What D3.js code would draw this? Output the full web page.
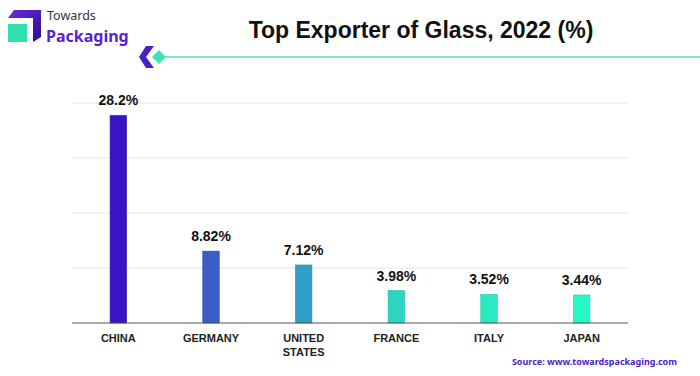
<!DOCTYPE html>
<html><head><meta charset="utf-8">
<script src="https://cdn.jsdelivr.net/npm/d3@7"></script>
<style>html,body{margin:0;padding:0;background:#fff;}svg{display:block;}</style>
</head><body>
<script>
const categories = ["CHINA", "GERMANY", "UNITED STATES", "FRANCE", "ITALY", "JAPAN"];
const values = [28.2, 8.82, 7.12, 3.98, 3.52, 3.44];
const valueLabels = ["28.2%", "8.82%", "7.12%", "3.98%", "3.52%", "3.44%"];
const barColors = ["#3a14c4", "#3a5ec8", "#31a0c8", "#2dd6c0", "#2be9c1", "#28f6c4"];
const gridFractions = [0, 0.25, 0.5, 0.75, 1];

const W = 700, H = 376;
const svg = d3.select("body").append("svg").attr("width", W).attr("height", H);
const font = "'Liberation Sans', Arial, sans-serif";

const x = d3.scaleBand().domain(categories).range([72, 628]);
// piecewise scale: the original chart compresses the top region
const y = d3.scaleLinear().domain([0, 10, 30]).range([323, 241.5, 103]);
const g = d3.scaleLinear().domain([0, 1]).range([323, 103]);

// gridlines
svg.append("g").selectAll("line").data(gridFractions.slice(1)).join("line")
  .attr("x1", 72).attr("x2", 628)
  .attr("y1", d => g(d)).attr("y2", d => g(d))
  .attr("stroke", "#e6e6ec").attr("stroke-width", 1);

// bars
const bw = 16.5;
svg.append("g").selectAll("rect").data(values).join("rect")
  .attr("x", (d, i) => x(categories[i]) + x.bandwidth() / 2 - bw / 2)
  .attr("y", d => y(d))
  .attr("width", bw)
  .attr("height", d => y(0) - y(d))
  .attr("fill", (d, i) => barColors[i])
  .attr("stroke", (d, i) => d3.color(barColors[i]).darker(0.4))
  .attr("stroke-width", 0.6);

// baseline
svg.append("line").attr("x1", 72).attr("x2", 628).attr("y1", y(0)).attr("y2", y(0))
  .attr("stroke", "#555").attr("stroke-width", 1.2);

// value labels
svg.append("g").selectAll("text").data(values).join("text")
  .attr("x", (d, i) => x(categories[i]) + x.bandwidth() / 2)
  .attr("y", d => y(d) - 10)
  .attr("text-anchor", "middle")
  .attr("font-family", font).attr("font-weight", "bold").attr("font-size", 14)
  .attr("fill", "#111")
  .text((d, i) => valueLabels[i]);

// category labels
const cat = svg.append("g").selectAll("text").data(categories).join("text")
  .attr("x", d => x(d) + x.bandwidth() / 2)
  .attr("y", 342)
  .attr("text-anchor", "middle")
  .attr("font-family", font).attr("font-weight", "bold").attr("font-size", 11)
  .attr("fill", "#222");
cat.each(function(d) {
  const words = d === "UNITED STATES" ? ["UNITED", "STATES"] : [d];
  const t = d3.select(this);
  words.forEach((w, i) => {
    t.append("tspan").attr("x", x(d) + x.bandwidth() / 2).attr("dy", i === 0 ? 0 : 14).text(w);
  });
});

// title
svg.append("text").attr("x", 421).attr("y", 38).attr("text-anchor", "middle")
  .attr("font-family", font).attr("font-weight", "bold").attr("font-size", 23)
  .attr("fill", "#111").text("Top Exporter of Glass, 2022 (%)");

// teal line + arrow decoration
svg.append("line").attr("x1", 162).attr("x2", 700).attr("y1", 57).attr("y2", 57)
  .attr("stroke", "#4fe0b4").attr("stroke-width", 1.5);
svg.append("path").attr("d", "M146,46 L154,46 L146,57 L154,68 L146,68 L139,57 Z").attr("fill", "#4a1fc8");
svg.append("path").attr("d", "M159,50 L166,57 L159,64 L152,57 Z").attr("fill", "#3fe3b8");

// logo
const defs = svg.append("defs");
const lg = defs.append("linearGradient").attr("id", "lg").attr("x1", 0).attr("y1", 0).attr("x2", 1).attr("y2", 1);
lg.append("stop").attr("offset", "0%").attr("stop-color", "#6a2be0");
lg.append("stop").attr("offset", "100%").attr("stop-color", "#2a0f8c");
svg.append("path").attr("d", "M14,10 L41,10 L41,37 L33,42 L33,18 L8,18 Z").attr("fill", "url(#lg)");
svg.append("rect").attr("x", 8).attr("y", 24).attr("width", 19).attr("height", 18).attr("fill", "#2ee0b0");
svg.append("text").attr("x", 47).attr("y", 20).attr("font-family", "'Noto Sans', Lato, sans-serif")
  .attr("font-size", 12.5).attr("fill", "#333").text("Towards");
svg.append("text").attr("x", 46).attr("y", 42).attr("font-family", "'Noto Sans', Lato, sans-serif")
  .attr("font-weight", "bold").attr("font-size", 16).attr("fill", "#5a1fd6").text("Packaging");

// source
svg.append("text").attr("x", 677).attr("y", 365).attr("text-anchor", "end")
  .attr("font-family", "'Noto Sans', Lato, sans-serif").attr("font-weight", "bold").attr("font-size", 9)
  .attr("fill", "#4a22d0").text("Source: www.towardspackaging.com");
</script>
</body></html>
